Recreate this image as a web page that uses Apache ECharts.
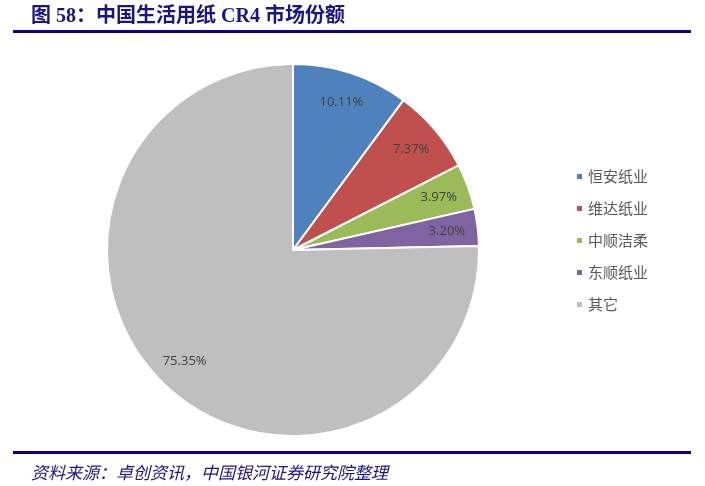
<!DOCTYPE html>
<html><head><meta charset="utf-8">
<script src="https://cdn.jsdelivr.net/npm/echarts@6/dist/echarts.min.js"></script>
<style>html,body{margin:0;padding:0;background:#fff}#c{width:705px;height:486px}</style>
</head><body><div id="c"></div>
<script>
const categories = ['恒安纸业','维达纸业','中顺洁柔','东顺纸业','其它'];
const shares = [10.11, 7.37, 3.97, 3.20, 75.35];
const colors = ['#4f81bd','#c0504d','#9bbb59','#8064a2','#bfbfbf'];

const data = categories.map((n,i)=>({name:n, value:shares[i], itemStyle:{color:colors[i]}}));
const chart = echarts.init(document.getElementById('c'), null, {renderer:'canvas'});
chart.setOption({
  animation:false,
  title:[
    {text:'图 58：中国生活用纸 CR4 市场份额', left:26, top:2,
     textStyle:{fontFamily:'Liberation Serif, "Noto Sans CJK SC"', fontWeight:'bold', fontSize:20, color:'#1a1580'}},
    {text:'资料来源：卓创资讯，中国银河证券研究院整理', left:26, top:459,
     textStyle:{fontFamily:'"Noto Sans CJK SC"', fontStyle:'italic', fontWeight:'normal', fontSize:17, color:'#1a1580'}}
  ],
  graphic:[
    {type:'rect', shape:{x:13, y:30, width:678, height:3}, style:{fill:'#13007c'}},
    {type:'rect', shape:{x:13, y:451, width:678, height:3}, style:{fill:'#13007c'}}
  ],
  legend:{orient:'vertical', left:575, top:169, padding:0, itemWidth:7, itemHeight:7, itemGap:17, icon:'rect',
    data:categories,
    textStyle:{fontFamily:'"Noto Sans CJK SC"', fontSize:15, color:'#595959'}},
  series:[
    {type:'pie', center:[293,250], radius:[0,186], startAngle:90, clockwise:true,
     data:data, label:{show:false}, labelLine:{show:false},
     itemStyle:{borderColor:'#fff', borderWidth:2}, emphasis:{disabled:true}},
    {type:'pie', center:[293,250], radius:[118,186], startAngle:90, clockwise:true, silent:true,
     data:data.map(d=>({name:d.name, value:d.value, itemStyle:{color:'rgba(0,0,0,0)'}})),
     label:{show:true, position:'inside', formatter:p=>p.value.toFixed(2)+'%',
       fontFamily:'"Open Sans", "DejaVu Sans"', fontSize:13, color:'#404040'},
     labelLine:{show:false}, itemStyle:{borderWidth:0}, emphasis:{disabled:true}}
  ]
});
</script></body></html>
